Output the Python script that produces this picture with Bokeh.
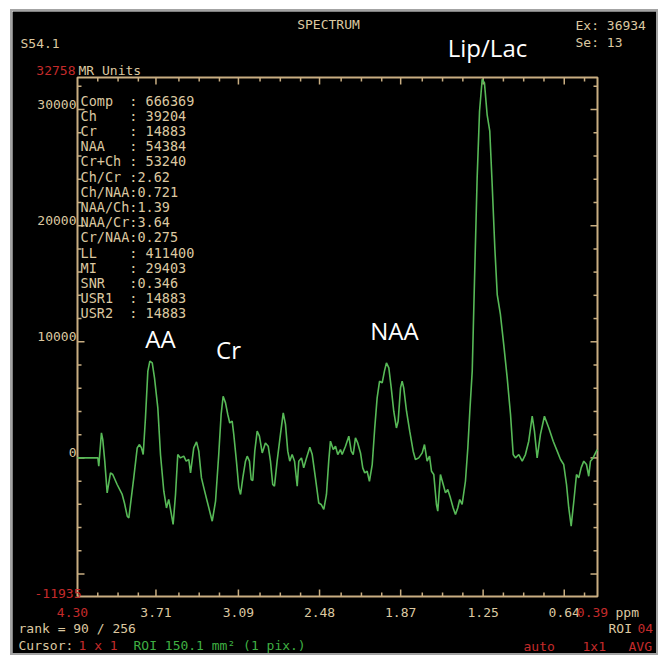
from bokeh.plotting import figure
from bokeh.models import Range1d
from bokeh.core.properties import value
from bokeh.embed import file_html
from bokeh.resources import INLINE

# ---------------- data ----------------
ppm = [4.300, 4.147, 4.140, 4.120, 4.110, 4.095, 4.077, 4.052, 4.035, 4.002,
       3.964, 3.947, 3.926, 3.914, 3.877, 3.851, 3.834, 3.819, 3.806, 3.789,
       3.771, 3.756, 3.738, 3.721, 3.696, 3.676, 3.651, 3.631, 3.614, 3.596,
       3.581, 3.563, 3.546, 3.526, 3.501, 3.483, 3.463, 3.450, 3.426, 3.405,
       3.388, 3.368, 3.350, 3.325, 3.300, 3.287, 3.262, 3.238, 3.220, 3.205,
       3.187, 3.170, 3.155, 3.137, 3.125, 3.105, 3.087, 3.074, 3.057, 3.037,
       3.024, 3.007, 2.994, 2.982, 2.967, 2.949, 2.932, 2.911, 2.887, 2.866,
       2.849, 2.832, 2.819, 2.799, 2.774, 2.753, 2.736, 2.719, 2.704, 2.686,
       2.668, 2.648, 2.636, 2.616, 2.599, 2.578, 2.553, 2.535, 2.511, 2.486,
       2.468, 2.448, 2.428, 2.411, 2.398, 2.377, 2.360, 2.343, 2.323, 2.310,
       2.285, 2.260, 2.242, 2.227, 2.210, 2.193, 2.172, 2.155, 2.140, 2.122,
       2.105, 2.084, 2.065, 2.047, 2.029, 2.009, 1.992, 1.977, 1.959, 1.941,
       1.922, 1.902, 1.889, 1.871, 1.859, 1.847, 1.826, 1.802, 1.776, 1.759,
       1.734, 1.708, 1.691, 1.671, 1.653, 1.638, 1.621, 1.601, 1.591, 1.571,
       1.550, 1.533, 1.516, 1.496, 1.475, 1.458, 1.441, 1.426, 1.408, 1.383,
       1.365, 1.350, 1.332, 1.315, 1.295, 1.277, 1.257, 1.240, 1.220, 1.200,
       1.182, 1.162, 1.144, 1.120, 1.095, 1.069, 1.044, 1.024, 1.007, 0.982,
       0.956, 0.932, 0.907, 0.881, 0.864, 0.844, 0.819, 0.789, 0.756, 0.723,
       0.693, 0.668, 0.644, 0.623, 0.606, 0.588, 0.568, 0.548, 0.531, 0.513,
       0.493, 0.473, 0.456, 0.443, 0.423, 0.405, 0.392]

intensity = [0, 0, -720, 2150, 1580, -280, -3010, -1290, -1430, -2290,
             -3150, -3880, -5020, -5170, -1720, 860, 1150, 860, 290, 3440,
             7470, 8330, 8180, 6890, 4310, 290, -2870, -4310, -3580, -4740,
             -5730, -3150, 290, 0, 150, -280, -140, -1290, 860, 1380,
             580, -1720, -2580, -3730, -4870, -5450, -3730, 290, 3740, 5310,
             4740, 3740, 3010, 3160, 2020, -280, -2580, -3150, -1720, -280,
             150, -280, -1860, -1950, 580, 2300, 1870, 430, 1290, 1010,
             -280, -2290, -2440, -280, 2020, 3880, 2880, 580, -280, 290,
             -280, -2440, -280, 0, -860, 0, 920, 290, -1720, -3880,
             -4010, -4440, -3150, -280, 1440, 720, 1010, 290, 720, 290,
             1010, 1870, 580, 290, 1720, 1290, 430, -860, -1290, -1150,
             -2010, -570, 2580, 5170, 6600, 6460, 7470, 8180, 7750, 6030,
             4020, 2580, 3160, 6030, 6600, 6030, 4020, 2300, 580, -140,
             0, 430, 1150, -280, 150, -1150, -1430, -4010, -4590, -1430,
             -2290, -3010, -2720, -3440, -4310, -4870, -4310, -3580, -4010, -2010,
             860, 4020, 7470, 15210, 24110, 29850, 32610, 32290, 29570, 28130,
             23540, 18080, 14070, 12350, 9760, 6890, 3740, 290, 0, 290,
             -280, 290, 1440, 3590, 2300, 0, 2020, 3590, 2580, 1440,
             580, -140, -570, -2290, -4310, -5880, -3730, -1430, -1720, -860,
             -280, -570, -1580, -280, 0, 430, 720]

x_tick_values = [4.30, 3.71, 3.09, 2.48, 1.87, 1.25, 0.64, 0.39]
x_tick_labels = ["4.30", "3.71", "3.09", "2.48", "1.87", "1.25", "0.64", "0.39"]
y_tick_values = [0, 10000, 20000, 30000]
y_tick_labels = ["0", "10000", "20000", "30000"]
y_min, y_max = -11935, 32758

stat_names = ["Comp", "Ch", "Cr", "NAA", "Cr+Ch", "Ch/Cr", "Ch/NAA", "NAA/Ch",
              "NAA/Cr", "Cr/NAA", "LL", "MI", "SNR", "USR1", "USR2"]
stat_values = [" 666369", " 39204", " 14883", " 54384", " 53240", "2.62", "0.721",
               "1.39", "3.64", "0.275", " 411400", " 29403", "0.346", " 14883", " 14883"]

peak_names = ["AA", "Cr", "NAA", "Lip/Lac"]

# ---------------- style / geometry ----------------
TAN = "#dcc8a0"
FRAME = "#c9ae82"
RED = "#c42b2b"
GREEN = "#57b957"
GREEN_TXT = "#3fb043"
MONO = "DejaVu Sans Mono"
FS = "13px"
NB = "\u00a0"

OX, OY = 12, 11                      # panel origin on page
W, H = 644, 642                      # panel size
FL, FR, FT, FB = 77, 597, 77, 596    # spectrum frame edges on page

x_lo, x_hi = x_tick_values[0], x_tick_values[-1]
PPM_PX = (x_hi - x_lo) / (FR - FL)          # ppm per pixel (to the right)
UNIT_PX = (y_max - y_min) / (FB - FT)       # MR units per pixel (upward)


def X(px):
    return x_lo + (px - FL) * PPM_PX


def Y(py):
    return y_min + (FB - py) * UNIT_PX


p = figure(width=W, height=H,
           x_range=Range1d(X(OX), X(OX + W)),
           y_range=Range1d(Y(OY + H), Y(OY)),
           x_axis_location=None, y_axis_location=None,
           output_backend="svg", toolbar_location=None,
           min_border=0, background_fill_color="black", border_fill_color="black",
           outline_line_color=None)
p.title.visible = False
p.grid.visible = False
p.margin = (OY, 0, 0, OX)
p.styles = {"outline": "2px solid #a3a3a3"}

# spectrum frame
p.line([x_lo, x_hi, x_hi, x_lo, x_lo], [y_min, y_min, y_max, y_max, y_min],
       line_color=FRAME, line_width=2)

# ticks (inward) on all four sides
step = (x_tick_values[0] - x_tick_values[-2]) / 24
x_minor = [x_lo - k * step for k in range(1, 26) if k % 4]
y_major = [-10000] + y_tick_values
y_minor = [v for v in range(-10000, 32001, 2000) if v not in y_major]

sx0, sx1, sy0, sy1 = [], [], [], []
for ticks, ln in ((x_tick_values[1:-1], 7), (x_minor, 4)):
    for v in ticks:
        sx0 += [v, v]
        sx1 += [v, v]
        sy0 += [y_min, y_max]
        sy1 += [y_min + ln * UNIT_PX, y_max - ln * UNIT_PX]
for ticks, ln in ((y_major, 7), (y_minor, 4)):
    for v in ticks:
        sx0 += [x_lo, x_hi]
        sx1 += [x_lo + ln * PPM_PX, x_hi - ln * PPM_PX]
        sy0 += [v, v]
        sy1 += [v, v]
p.segment(sx0, sy0, sx1, sy1, line_color=FRAME, line_width=1.5)

# spectrum
p.line(ppm, intensity, line_color=GREEN, line_width=1.6)


def txt(texts, xs, ys, color=TAN, size=FS, font=MONO, align="left"):
    p.text(x=xs, y=ys, text=[t.replace(" ", NB) for t in texts], text_color=color,
           text_font_size=size, text_font=value(font), text_align=align,
           text_baseline="middle")


# axis tick labels
mid = [(v, t) for v, t in zip(x_tick_values, x_tick_labels) if t not in ("4.30", "0.39")]
txt([t for _, t in mid], [v for v, _ in mid], [Y(612)] * len(mid), align="center")
txt([x_tick_labels[0], x_tick_labels[-1]], [X(72), X(592)], [Y(612)] * 2, color=RED, align="center")
txt(["ppm"], [X(615)], [Y(612)])
txt(y_tick_labels, [X(76)] * len(y_tick_values), [v + 5.5 * UNIT_PX for v in y_tick_values],
    align="right")
txt([str(y_max)], [X(75)], [Y(70)], color=RED, align="right")
txt(["MR Units"], [X(78)], [Y(70)])
txt([str(y_min)], [X(81)], [Y(593)], color=RED, align="right")

# statistics block
lines = [n.ljust(6) + ":" + v for n, v in zip(stat_names, stat_values)]
txt(lines, [X(80)] * len(lines), [Y(100 + i * 15.2) for i in range(len(lines))], size="13.5px")

# header / footer texts
txt(["SPECTRUM"], [X(328)], [Y(24)], align="center")
txt(["S54.1", "Ex: 36934", "Se: 13", "rank = 90 / 256", "Cursor:", "ROI"],
    [X(20), X(575), X(575), X(18), X(18), X(608)],
    [Y(43), Y(25), Y(42), Y(628), Y(645), Y(628)])
txt(["1 x 1", "04", "auto", "1x1", "AVG"],
    [X(78), X(637), X(523), X(582), X(628)],
    [Y(645), Y(628), Y(646), Y(646), Y(646)], color=RED)
txt(["ROI 150.1 mm\u00b2 (1 pix.)"], [X(133)], [Y(645)], color=GREEN_TXT)

# peak annotations (white)
peak_px = [160, 228, 394, 487]
peak_py = [338, 349, 330, 47]
txt(peak_names, [X(v) for v in peak_px], [Y(v) for v in peak_py],
    color="white", size="24px", font="Open Sans", align="center")

open("out.html", "w").write(file_html(p, INLINE))
